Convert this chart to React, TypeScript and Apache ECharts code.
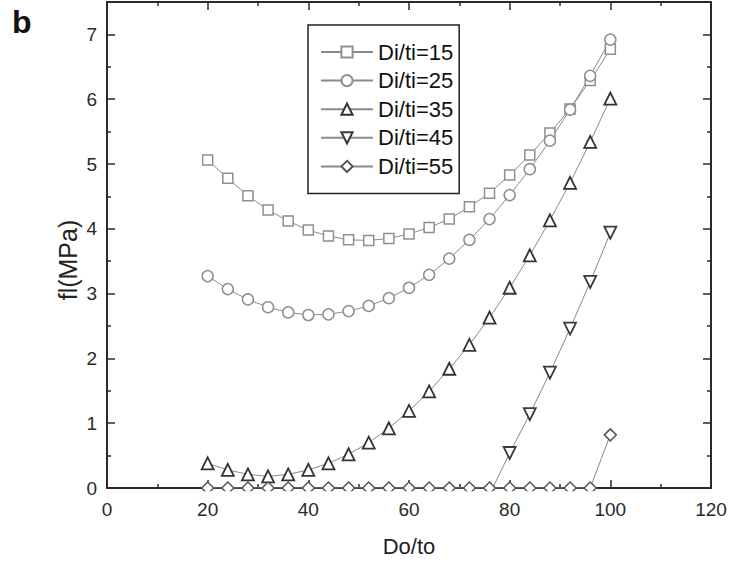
import React, { useEffect, useRef } from "react";
import * as echarts from "echarts";

const xValues = [20, 24, 28, 32, 36, 40, 44, 48, 52, 56, 60, 64, 68, 72, 76, 80, 84, 88, 92, 96, 100];
const s15 = [5.06, 4.78, 4.51, 4.29, 4.12, 3.98, 3.89, 3.83, 3.82, 3.85, 3.92, 4.02, 4.15, 4.34, 4.55, 4.83, 5.14, 5.48, 5.85, 6.29, 6.77];
const s25 = [3.27, 3.07, 2.91, 2.79, 2.71, 2.67, 2.68, 2.73, 2.81, 2.93, 3.09, 3.29, 3.54, 3.83, 4.15, 4.52, 4.92, 5.36, 5.84, 6.36, 6.92];
const s35 = [0.38, 0.28, 0.21, 0.18, 0.21, 0.28, 0.38, 0.52, 0.70, 0.92, 1.19, 1.49, 1.84, 2.21, 2.63, 3.09, 3.59, 4.13, 4.71, 5.34, 6.01];
const s45 = [null, null, null, null, null, null, null, null, null, null, null, null, null, null, -0.1, 0.54, 1.14, 1.78, 2.46, 3.18, 3.94];
const s55 = [0, 0, 0, 0, 0, 0, 0, 0, 0, 0, 0, 0, 0, 0, 0, 0, 0, 0, 0, 0, 0.82];
const seriesNames = ["Di/ti=15", "Di/ti=25", "Di/ti=35", "Di/ti=45", "Di/ti=55"];
const xTicks = [0, 20, 40, 60, 80, 100, 120];
const yTicks = [0, 1, 2, 3, 4, 5, 6, 7];

const FONT = "'Liberation Sans', Arial, sans-serif";

export default function App() {
  const ref = useRef<HTMLDivElement>(null);
  useEffect(() => {
    if (!ref.current) return;
    const chart = echarts.init(ref.current, undefined, { renderer: "svg" });
    const pair = (ys: (number | null)[]) => xValues.map((x, i) => [x, ys[i]]);
    const axisLine = { show: true, onZero: false, lineStyle: { color: "#2a2a2a", width: 2 } };
    const mk = (name: string, ys: (number | null)[], symbol: string, size: number, color: string, bw: number) => ({
      name,
      type: "line",
      data: pair(ys),
      symbol,
      symbolSize: size,
      showAllSymbol: true,
      clip: true,
      lineStyle: { color: "#8a8a8a", width: 1 },
      itemStyle: { color: "#ffffff", borderColor: color, borderWidth: bw },
      z: 3,
    });
    const tickCommon = {
      splitLine: { show: false },
      minorTick: { show: true, splitNumber: 2, length: 4, lineStyle: { color: "#2a2a2a", width: 1.5 } },
      axisTick: { show: true, inside: true, length: 8, lineStyle: { color: "#2a2a2a", width: 1.5 } },
    };
    const xBase = { type: "value", min: 0, max: 120, interval: 20, axisLine, ...tickCommon };
    const yBase = { type: "value", min: 0, max: 7.5, interval: 1, axisLine, ...tickCommon };
    chart.setOption({
      animation: false,
      backgroundColor: "#ffffff",
      grid: { left: 107, right: 20, top: 2, bottom: 72 },
      xAxis: [
        {
          ...xBase,
          position: "bottom",
          name: "Do/to",
          nameLocation: "middle",
          nameGap: 47,
          nameTextStyle: { fontFamily: FONT, fontSize: 22, color: "#222" },
          axisLabel: {
            fontFamily: FONT,
            fontSize: 19,
            color: "#2a2a2a",
            margin: 12,
            formatter: (v: number) => (xTicks.includes(v) ? String(v) : ""),
          },
        },
        { ...xBase, position: "top", axisLabel: { show: false } },
      ],
      yAxis: [
        {
          ...yBase,
          position: "left",
          axisLabel: {
            fontFamily: FONT,
            fontSize: 19,
            color: "#2a2a2a",
            margin: 10,
            showMaxLabel: false,
            formatter: (v: number) => (yTicks.includes(v) ? String(v) : ""),
          },
        },
        { ...yBase, position: "right", axisLabel: { show: false } },
      ],
      legend: {
        orient: "vertical",
        left: 308,
        top: 25,
        padding: [16, 6, 16, 12],
        itemWidth: 52,
        itemHeight: 14,
        itemGap: 6.6,
        borderColor: "#222",
        borderWidth: 1.5,
        backgroundColor: "#ffffff",
        textStyle: { fontFamily: FONT, fontSize: 22, color: "#111", lineHeight: 22 },
        data: seriesNames,
      },
      graphic: [
        {
          type: "rect",
          shape: { x: 108, y: 491.2, width: 602, height: 7 },
          style: { fill: "#ffffff" },
          z: 50,
          silent: true,
        },
        {
          type: "text",
          x: 12,
          y: 6,
          style: { text: "b", font: `bold 32px ${FONT}`, fill: "#111" },
        },
        {
          type: "text",
          x: 68,
          y: 260,
          rotation: Math.PI / 2,
          style: {
            text: "fl(MPa)",
            font: `25px ${FONT}`,
            fill: "#222",
            align: "center",
            verticalAlign: "middle",
          },
        },
      ],
      series: [
        mk(seriesNames[0], s15, "rect", 10, "#8f8f8f", 1.5),
        mk(seriesNames[1], s25, "circle", 11, "#8f8f8f", 1.5),
        mk(seriesNames[2], s35, "triangle", 12, "#333333", 1.8),
        mk(seriesNames[3], s45, "path://M0,0 L10,0 L5,9 Z", 12, "#3a3a3a", 1.8),
        mk(seriesNames[4], s55, "diamond", 12, "#555555", 1.5),
      ],
    });
    return () => chart.dispose();
  }, []);
  return <div ref={ref} style={{ width: 731, height: 562, position: "absolute", left: 0, top: 0 }} />;
}
